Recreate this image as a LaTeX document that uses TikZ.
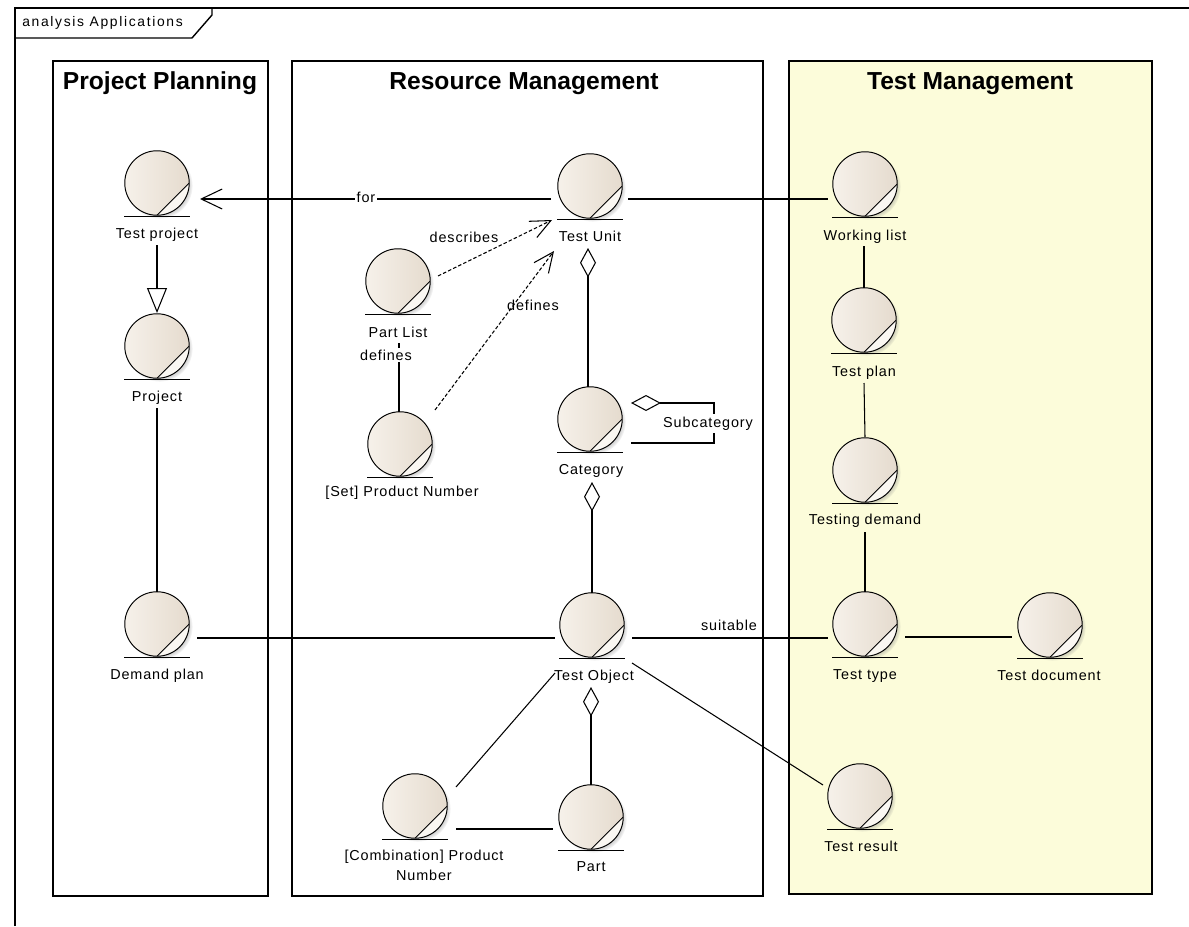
\documentclass[tikz,border=0pt]{standalone}
\usepackage{fontspec}
\setmainfont{Liberation Sans}
\newfontfamily\lblfont[LetterSpace=6]{Liberation Sans}
\newfontfamily\framefont[LetterSpace=12]{Liberation Sans}
\usetikzlibrary{arrows.meta,shadows,calc}
\definecolor{entA}{RGB}{246,241,234}
\definecolor{entB}{RGB}{229,219,206}
\definecolor{entC}{RGB}{250,247,242}
\definecolor{laneY}{RGB}{252,252,218}
\tikzset{
  entity/.style={circle, draw=black, line width=0.55pt, minimum size=1.29cm, inner sep=0pt,
    left color=entA, right color=entB,
    circular drop shadow={shadow xshift=0.05cm, shadow yshift=-0.05cm, shadow scale=1.03, opacity=0.4},
    path picture={
      \fill[entC] (path picture bounding box.south) -- (path picture bounding box.east) -- (path picture bounding box.south east) -- cycle;
      \draw[line width=0.55pt] (path picture bounding box.south) -- (path picture bounding box.east);
    }},
  ebase/.style={draw=black, line width=0.6pt},
  lbl/.style={font=\lblfont\fontsize{8.2}{11.3}\selectfont, inner sep=0pt, anchor=base},
  ttl/.style={font=\bfseries\fontsize{14}{17}\selectfont, inner sep=0pt, anchor=base},
  lane/.style={draw=black, line width=0.8pt},
  conn/.style={draw=black, line width=0.6pt},
  dep/.style={conn, dash pattern=on 2pt off 1.2pt, -{Straight Barb[length=0.4cm, width=0.36cm]}},
  navhead/.style={-{Straight Barb[length=0.42cm, width=0.4cm]}},
  genhead/.style={-{Triangle[open, length=0.5cm, width=0.4cm, fill=white]}},
  aggend/.style={-{Diamond[open, length=0.59cm, width=0.32cm, fill=white]}},
  aggstart/.style={{Diamond[open, length=0.6cm, width=0.32cm, fill=white]}-}
}
\begin{document}
\begin{tikzpicture}[x=0.02cm, y=-0.02cm]
\useasboundingbox (0,0) rectangle (1189,926);
% outer frame
\draw[lane] (15,926) -- (15,8) -- (1189,8);
\draw[lane] (15,38) -- (192,38) -- (212,15) -- (212,8);
\node[lbl, font=\framefont\fontsize{7.9}{9}\selectfont, anchor=base west] (frm) at (22,27) {analysis Applications};
% lanes
\fill[laneY] (789,61) rectangle (1152,894);
\draw[lane] (789,61) rectangle (1152,894);
\draw[lane] (53,61) rectangle (268,896);
\draw[lane] (292,61) rectangle (763,896);
\node[ttl] (t1) at (160,90) {Project Planning};
\node[ttl] (t2) at (524,90) {Resource Management};
\node[ttl] (t3) at (970,90) {Test Management};
% entities
\node[entity] (tp) at (157,183) {};
\node[entity] (pr) at (157,346) {};
\node[entity] (dp) at (157,624) {};
\node[entity] (tu) at (590,186) {};
\node[entity] (pl) at (398,281) {};
\node[entity] (spn) at (400,444) {};
\node[entity] (cat) at (590,419) {};
\node[entity] (tob) at (592,625) {};
\node[entity] (part) at (591,817) {};
\node[entity] (cpn) at (415,806) {};
\node[entity] (wl) at (865,184) {};
\node[entity] (tpl) at (864,320) {};
\node[entity] (td) at (865,470) {};
\node[entity] (tt) at (865,624) {};
\node[entity] (tdoc) at (1050,625) {};
\node[entity] (tr) at (860,796) {};
\foreach \n in {tp,pr,dp,tu,pl,spn,cat,tob,part,cpn,wl,tpl,td,tt,tdoc,tr}
  \draw[ebase] ([xshift=-0.66cm,yshift=-0.02cm]\n.south) -- ([xshift=0.66cm,yshift=-0.02cm]\n.south);
% labels of entities
\node[lbl] (tpL) at (157,238) {Test project};
\node[lbl] (prL) at (157,401) {Project};
\node[lbl] (dpL) at (157,679) {Demand plan};
\node[lbl] (tuL) at (590,241) {Test Unit};
\node[lbl] (plL) at (398,337) {Part List};
\node[lbl] (spnL) at (402,496) {[Set] Product Number};
\node[lbl] (catL) at (591,474) {Category};
\node[lbl] (tobL) at (594,680) {Test Object};
\node[lbl] (partL) at (591,871) {Part};
\node[lbl, align=center, anchor=north] (cpnL) at (424,850) {[Combination] Product\\Number};
\node[lbl] (wlL) at (865,240) {Working list};
\node[lbl] (tplL) at (864,376) {Test plan};
\node[lbl] (tdL) at (865,524) {Testing demand};
\node[lbl] (ttL) at (865,679) {Test type};
\node[lbl] (tdocL) at (1049,680) {Test document};
\node[lbl] (trL) at (861,851) {Test result};
% connectors
\draw[conn, navhead] ($(tu)+(-39,13)$) -- ($(tp)+(43,16)$);
\draw[conn] ($(tu)+(38,13)$) -- ($(wl)+(-37,15)$);
\draw[conn, genhead] ($(tp)+(0,62)$) -- ($(pr)+(0,-33)$);
\draw[conn] ($(pr)+(0,62)$) -- ($(dp)+(0,-32)$);
\draw[conn] ($(dp)+(40,14)$) -- ($(tob)+(-37,13)$);
\draw[conn] ($(tob)+(40,13)$) -- ($(tt)+(-37,14)$);
\draw[conn] ($(tt)+(40,13)$) -- ($(tdoc)+(-38,12)$);
\draw[conn] ($(cpn)+(41,23)$) -- ($(part)+(-38,12)$);
\draw[conn] ($(cpn)+(41,-19)$) -- ($(tob)+(-37,48)$);
\draw[conn] ($(tob)+(40,38)$) -- ($(tr)+(-37,-11)$);
\draw[conn, aggend] ($(cat)+(-2,-32)$) -- ($(tu)+(-2,62)$);
\draw[conn, aggend] ($(tob)+(0,-32)$) -- ($(cat)+(2,63)$);
\draw[conn, aggend] ($(part)+(0,-32)$) -- ($(tob)+(-1,62)$);
\draw[conn, aggstart] ($(cat)+(41,-16)$) -- ($(cat)+(124,-16)$) -- ($(cat)+(124,24)$) -- ($(cat)+(41,24)$);
\draw[conn] ($(wl)+(-1,62)$) -- ($(tpl)+(0,-32)$);
\draw[conn] ($(tpl)+(0,63)$) -- ($(td)+(0,-33)$);
\draw[conn] ($(td)+(0,62)$) -- ($(tt)+(0,-32)$);
\draw[conn] ($(pl)+(1,62)$) -- ($(spn)+(-1,-32)$);
\draw[dep] ($(pl)+(40,-5)$) -- ($(tu)+(-38,34)$);
\draw[dep] ($(spn)+(35,-34)$) -- ($(tu)+(-36,65)$);
% connector labels
\node[lbl, fill=white, inner sep=1pt] (forL) at (366,202) {for};
\node[lbl] (suitL) at (729,630) {suitable};
\node[lbl, fill=white, inner sep=1.5pt] (subL) at (708,427) {Subcategory};
\node[lbl] (descL) at (464,242) {describes};
\node[lbl] (def1L) at (533,310) {defines};
\node[lbl, fill=white, inner sep=1pt] (def2L) at (386,360) {defines};
\end{tikzpicture}
\end{document}
